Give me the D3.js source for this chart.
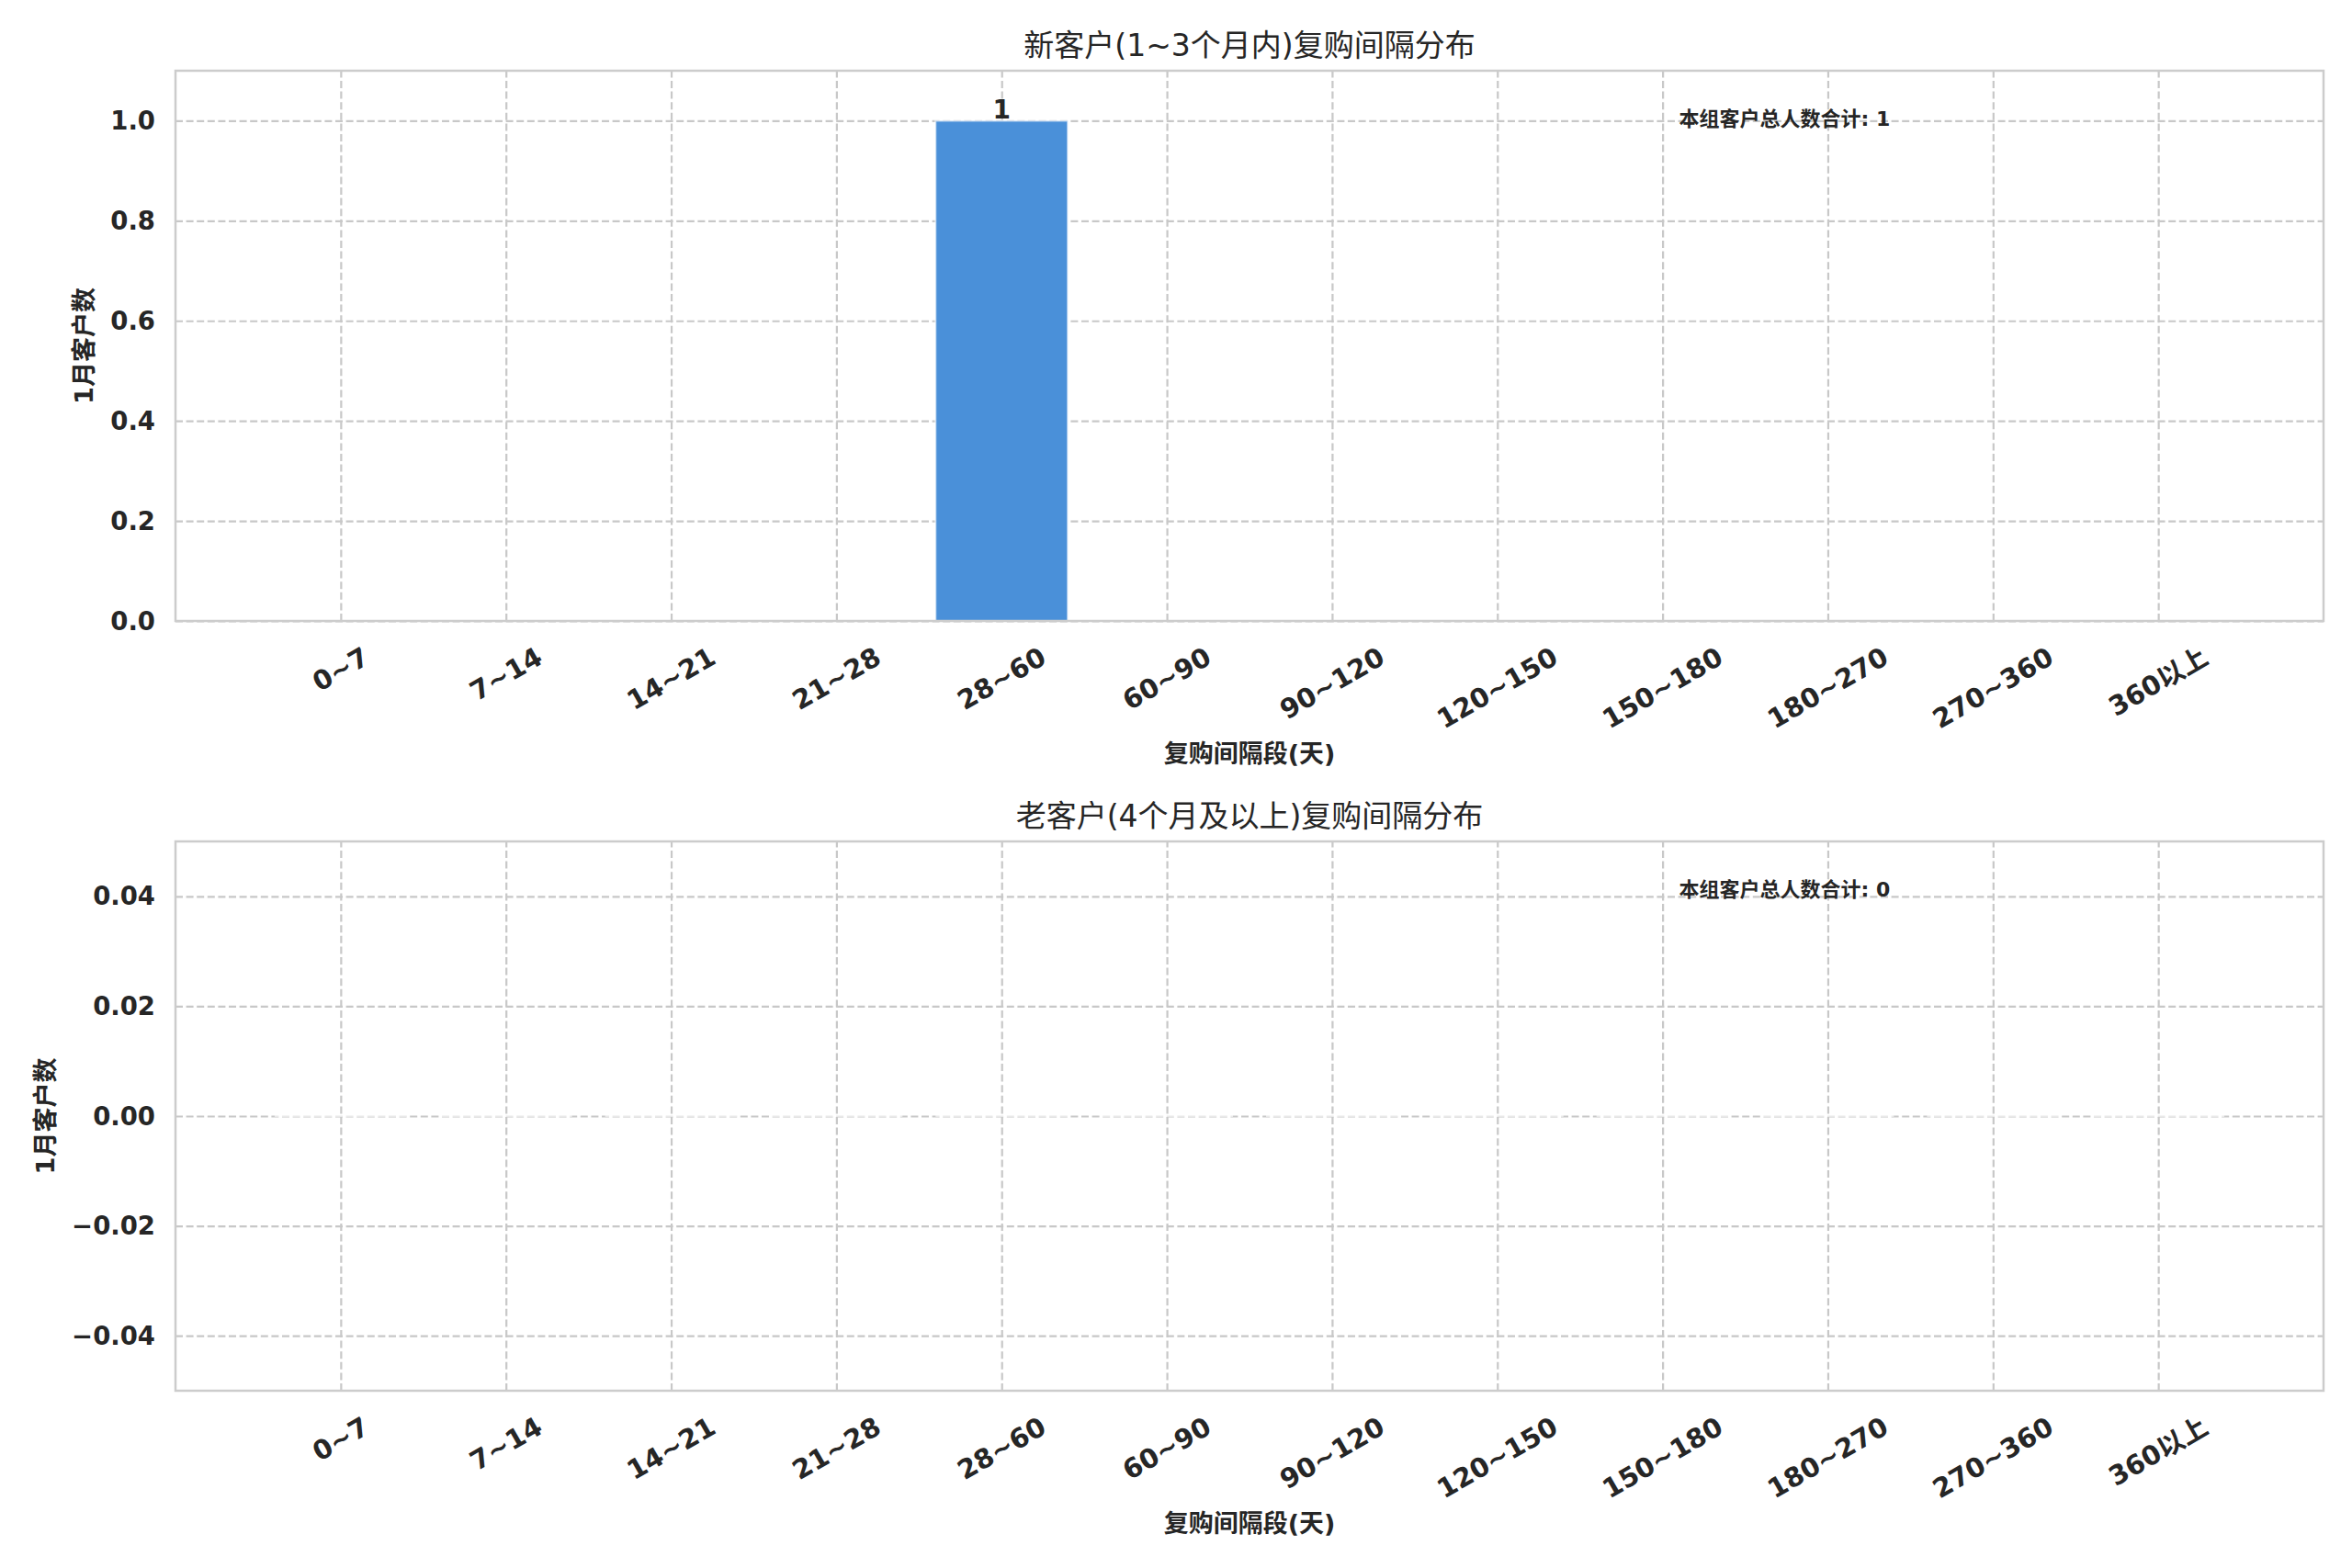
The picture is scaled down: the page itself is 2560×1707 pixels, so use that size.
<!DOCTYPE html>
<html>
<head>
<meta charset="utf-8">
<script src="https://cdn.jsdelivr.net/npm/d3@7"></script>
<style>
  body { margin: 0; background: #fff; }
  svg text { font-family: "DejaVu Sans", "Noto Sans CJK SC", sans-serif; fill: #262626; }
</style>
</head>
<body>
<div id="chart"></div>
<script>
// ranges on the x axis
var categories = ["0~7", "7~14", "14~21", "21~28", "28~60", "60~90", "90~120",
                  "120~150", "150~180", "180~270", "270~360", "360以上"];

// counts per range, one array per panel
var shortTermCounts = [0, 0, 0, 0, 1, 0, 0, 0, 0, 0, 0, 0];
var longTermCounts  = [0, 0, 0, 0, 0, 0, 0, 0, 0, 0, 0, 0];

var shortTermTicks = [0.0, 0.2, 0.4, 0.6, 0.8, 1.0];
var longTermTicks  = [-0.04, -0.02, 0.00, 0.02, 0.04];

var panelTitles = ["新客户(1~3个月内)复购间隔分布", "老客户(4个月及以上)复购间隔分布"];
var panelTotals = [1, 0];
var xLabel = "复购间隔段(天)",
    yLabel = "1月客户数",
    totalLabel = "本组客户总人数合计";

var W = 2560, H = 1707;
var left = 191, right = 2529;
var barColor = "#4a90d9",
    gridColor = "#c8c8c8",
    spineColor = "#cccccc";

var svg = d3.select("#chart").append("svg")
    .attr("width", W)
    .attr("height", H);

drawPanel({ top: 77, bottom: 676, values: shortTermCounts, ticks: shortTermTicks,
            yDomain: [0, 1.1], fmt: d3.format(".1f"), title: panelTitles[0], total: panelTotals[0] });
drawPanel({ top: 916, bottom: 1514, values: longTermCounts, ticks: longTermTicks,
            yDomain: [-0.05, 0.05], fmt: d3.format(".2f"), title: panelTitles[1], total: panelTotals[1] });

function drawPanel(p) {
  var g = svg.append("g");

  // x runs one empty slot before the first range, like the original
  var x = d3.scaleLinear().domain([-1, categories.length]).range([left, right]);
  var y = d3.scaleLinear().domain(p.yDomain).range([p.bottom, p.top]);
  var barW = (x(1) - x(0)) * 0.8;

  // grid
  var gx = g.append("g")
      .attr("transform", "translate(0," + p.bottom + ")")
      .call(d3.axisBottom(x).tickValues(d3.range(categories.length))
            .tickSize(-(p.bottom - p.top)).tickFormat(""));
  var gy = g.append("g")
      .attr("transform", "translate(" + left + ",0)")
      .call(d3.axisLeft(y).tickValues(p.ticks)
            .tickSize(-(right - left)).tickFormat(""));
  [gx, gy].forEach(function(a) {
    a.select(".domain").remove();
    a.selectAll("line")
      .attr("stroke", gridColor)
      .attr("stroke-width", 2.2)
      .attr("stroke-dasharray", "8,3.6");
  });

  // bars (paths so zero-height bars still draw their edge)
  g.selectAll("path.bar")
      .data(p.values)
    .enter().append("path")
      .attr("class", "bar")
      .attr("d", function(d, i) {
        var x0 = x(i) - barW / 2, x1 = x(i) + barW / 2,
            y0 = y(0), y1 = y(d);
        return "M" + x0 + "," + y0 + "H" + x1 + "V" + y1 + "H" + x0 + "Z";
      })
      .attr("fill", barColor)
      .attr("stroke", "#ffffff")
      .attr("stroke-opacity", 0.6)
      .attr("stroke-width", 2);

  // value labels on non-empty bars
  g.selectAll("text.val")
      .data(p.values.map(function(d, i) { return {v: d, i: i}; }).filter(function(d) { return d.v > 0; }))
    .enter().append("text")
      .attr("class", "val")
      .attr("x", function(d) { return x(d.i); })
      .attr("y", function(d) { return y(d.v) - 2; })
      .attr("text-anchor", "middle")
      .attr("font-size", 28)
      .attr("font-weight", "bold")
      .text(function(d) { return d.v; });

  // spines
  g.append("rect")
      .attr("x", left).attr("y", p.top)
      .attr("width", right - left).attr("height", p.bottom - p.top)
      .attr("fill", "none")
      .attr("stroke", spineColor)
      .attr("stroke-width", 2.5);

  // y tick labels
  var yt = g.selectAll("text.ytick")
      .data(p.ticks)
    .enter().append("text")
      .attr("class", "ytick")
      .attr("x", left - 22)
      .attr("y", function(d) { return y(d); })
      .attr("dy", "0.35em")
      .attr("text-anchor", "end")
      .attr("font-size", 27.5)
      .attr("font-weight", "bold")
      .text(function(d) { return p.fmt(d); });

  // x tick labels, rotated 30deg around their centre, top of rotated box under the axis
  g.selectAll("text.xtick")
      .data(categories)
    .enter().append("text")
      .attr("class", "xtick")
      .attr("text-anchor", "middle")
      .attr("dominant-baseline", "central")
      .attr("font-size", 29)
      .attr("font-weight", "bold")
      .text(function(d) { return d; })
      .attr("transform", function(d, i) {
        var w = this.getComputedTextLength(), h = 29;
        var rh = w * 0.5 + h * 0.866;
        return "translate(" + x(i) + "," + (p.bottom + 24 + rh / 2) + ") rotate(-30)";
      });

  // axis labels
  g.append("text")
      .attr("x", (left + right) / 2)
      .attr("y", p.bottom + 145)
      .attr("dy", "0.35em")
      .attr("text-anchor", "middle")
      .attr("font-size", 27)
      .attr("font-weight", "bold")
      .text(xLabel);

  var minLeft = d3.min(yt.nodes(), function(n) { return n.getBBox().x; });
  g.append("text")
      .attr("transform", "translate(" + (minLeft - 29) + "," + ((p.top + p.bottom) / 2) + ") rotate(-90)")
      .attr("dy", "0.35em")
      .attr("text-anchor", "middle")
      .attr("font-size", 27)
      .attr("font-weight", "bold")
      .text(yLabel);

  // title
  g.append("text")
      .attr("x", (left + right) / 2)
      .attr("y", p.top - 28)
      .attr("dy", "0.35em")
      .attr("text-anchor", "middle")
      .attr("font-size", 33)
      .text(p.title);

  // total note
  g.append("text")
      .attr("x", left + 0.7 * (right - left))
      .attr("y", p.bottom - 0.9 * (p.bottom - p.top))
      .attr("font-size", 22)
      .attr("font-weight", "bold")
      .text(totalLabel + ": " + p.total);
}
</script>
</body>
</html>
